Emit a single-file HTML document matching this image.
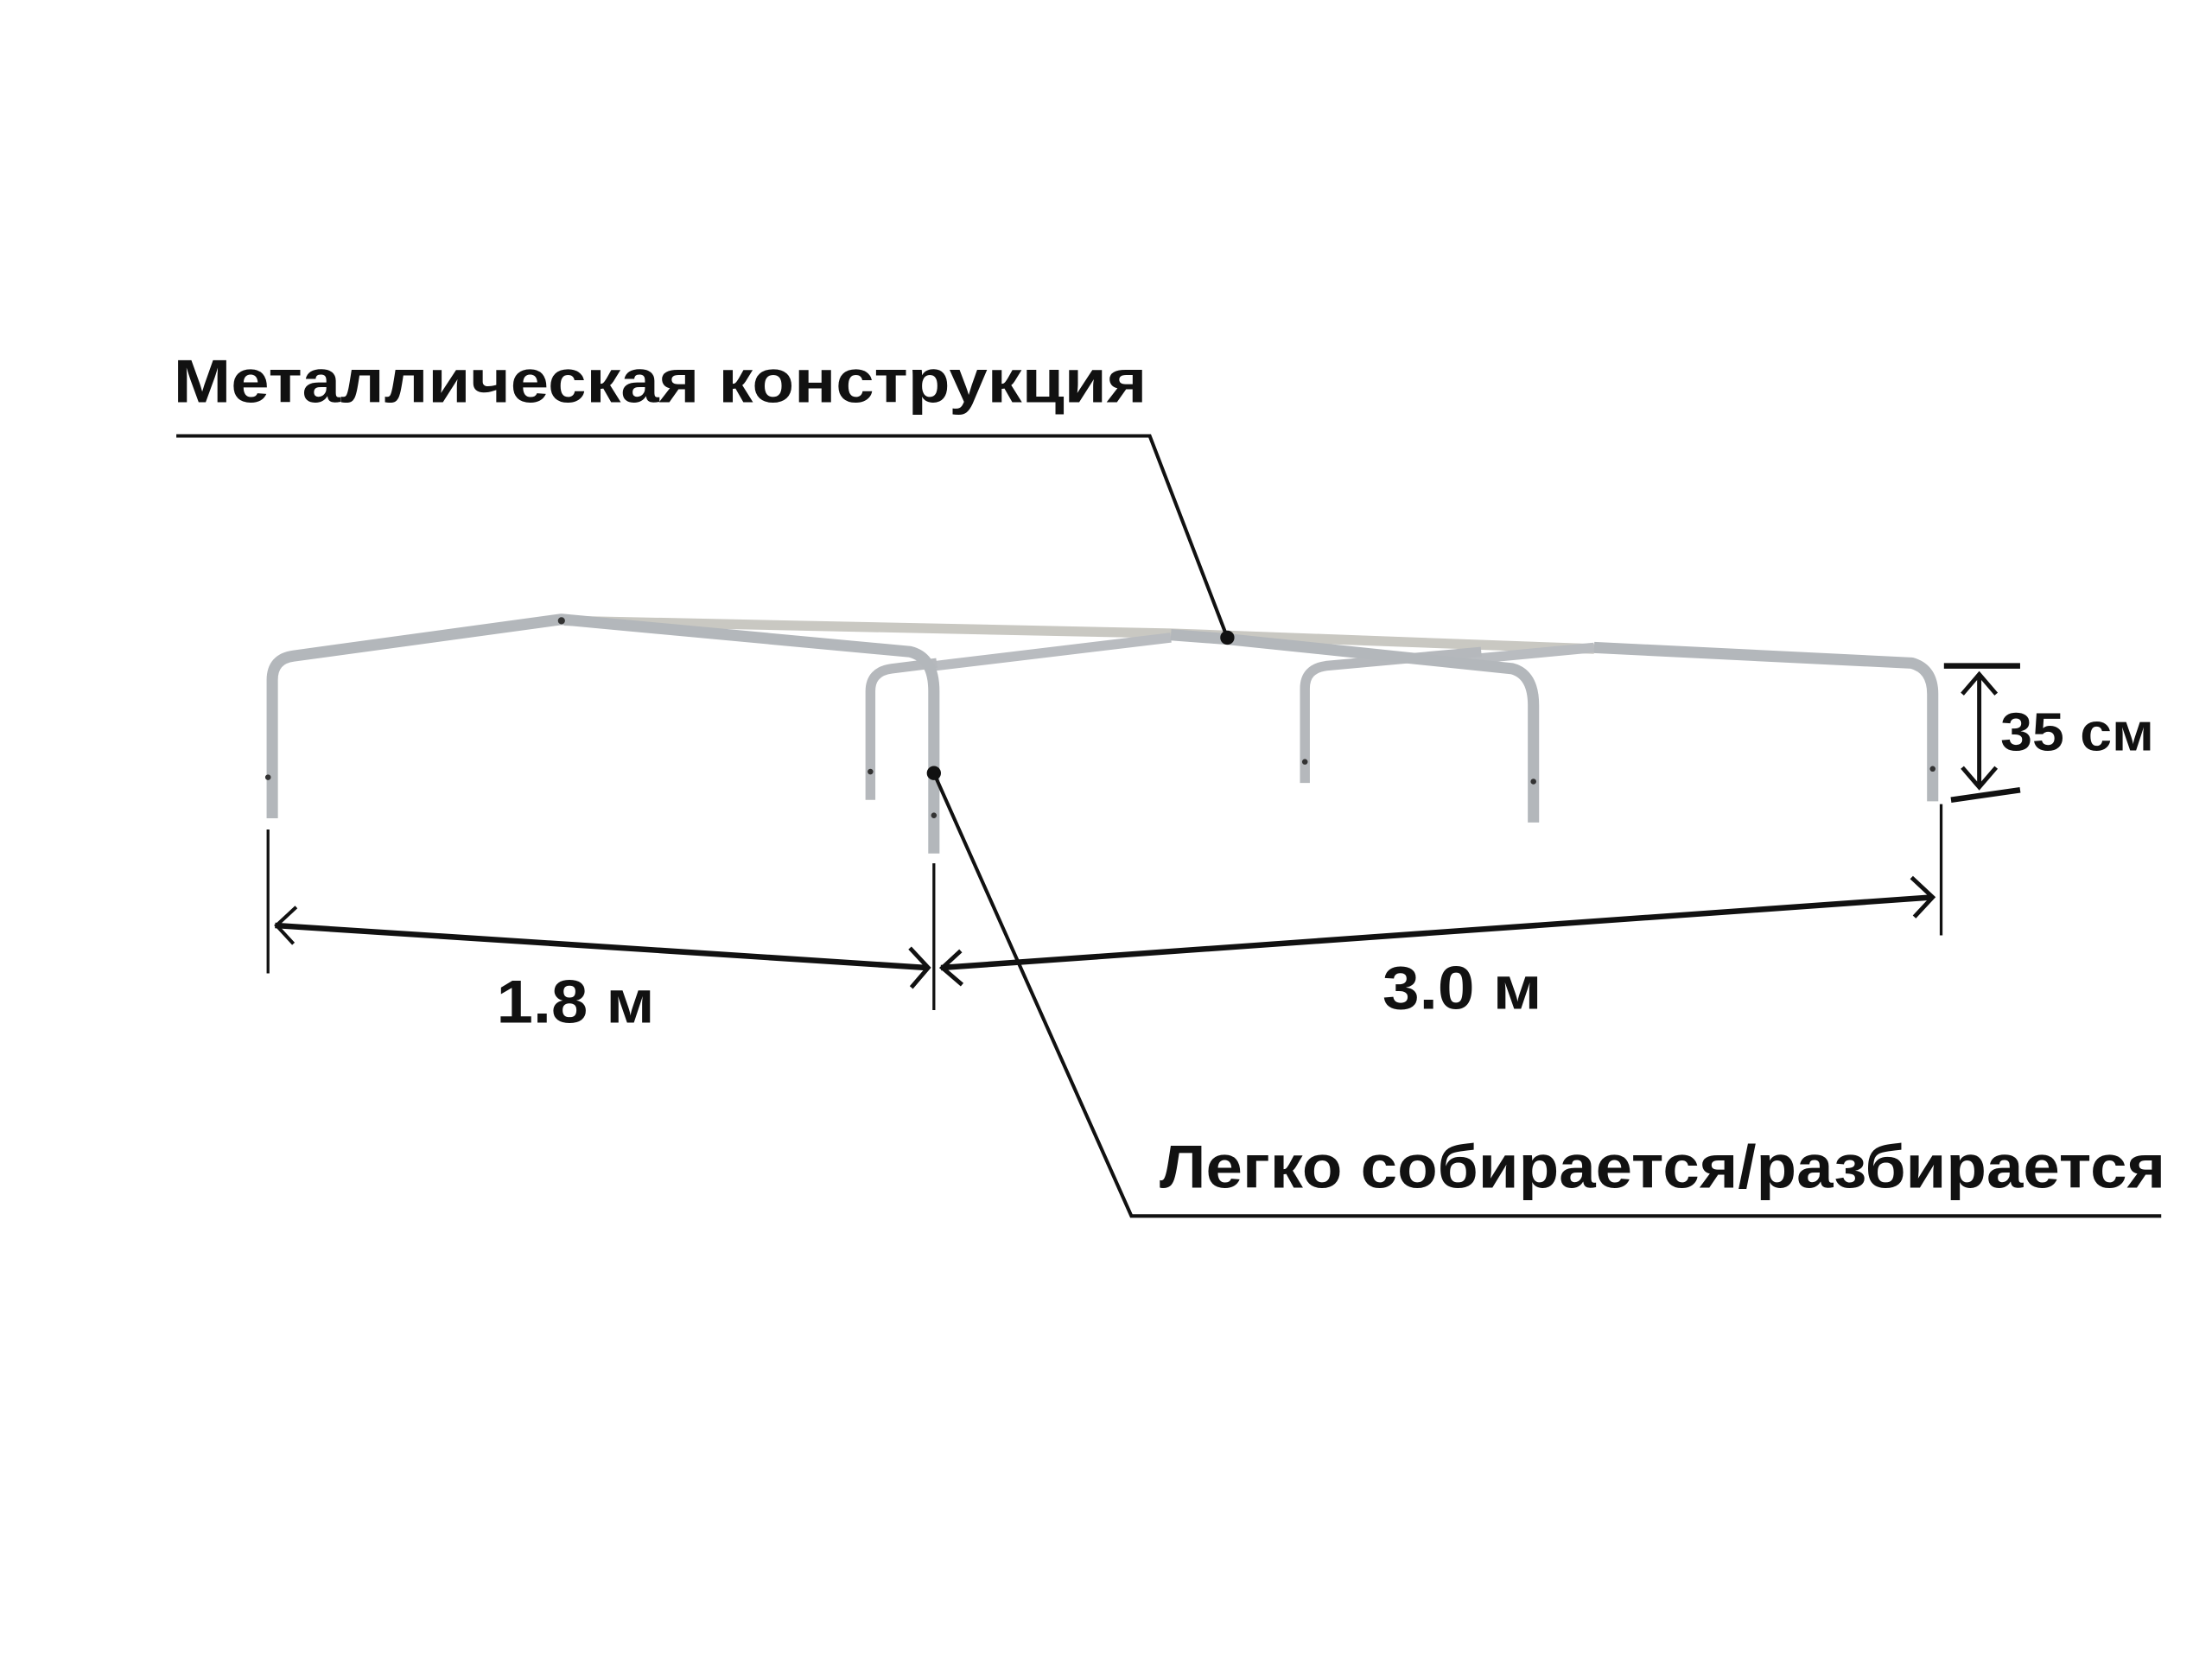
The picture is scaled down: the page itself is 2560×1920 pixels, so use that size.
<!DOCTYPE html>
<html><head><meta charset="utf-8"><style>
html,body{margin:0;padding:0;background:#fff;}
svg{display:block;}
text{font-family:"Liberation Sans",sans-serif;font-weight:bold;fill:#111;}
</style></head><body>
<svg width="2560" height="1920" viewBox="0 0 1568 1176" xmlns="http://www.w3.org/2000/svg">
<rect width="1568" height="1176" fill="#fff"/>
<g fill="none" stroke-linecap="butt" stroke-linejoin="round">
  <!-- back beige rail -->
  <path d="M400 440 L830 449 L1130 460" stroke="#c9c8c2" stroke-width="7"/>
  <!-- far crossbars -->
  <path d="M663 472 L830 452" stroke="#b9bcc0" stroke-width="7"/>
  <path d="M1035 468 L1130 459" stroke="#b9bcc0" stroke-width="7"/>
  <!-- back-middle arch -->
  <path d="M925 555 L925 488 Q925 474 940 472 L1050 462" stroke="#b5b8bc" stroke-width="7"/>
  <!-- left-back arch -->
  <path d="M617 567 L617 490 Q617 476 632 474 L664 470" stroke="#b5b8bc" stroke-width="7"/>
  <!-- left front arch -->
  <path d="M193 580 L193 482 Q193 467 208 465 L398 439 L645 462 Q662 466 662 490 L662 605" stroke="#b3b7bb" stroke-width="8"/>
  <!-- main ridge to right -->
  <path d="M830 450 L870 453 L1072 474 Q1087 478 1087 500 L1087 583" stroke="#b3b7bb" stroke-width="8"/>
  <path d="M1130 459 L1355 470 Q1370 474 1370 492 L1370 568" stroke="#b3b7bb" stroke-width="8"/>
</g>
<g fill="#333">
  <circle cx="398" cy="440" r="2.5"/><circle cx="190" cy="551" r="2"/><circle cx="617" cy="547" r="2"/>
  <circle cx="662" cy="578" r="2"/><circle cx="925" cy="540" r="2"/><circle cx="1087" cy="554" r="2"/><circle cx="1370" cy="545" r="2"/>
</g>
<g stroke="#111" fill="none" stroke-width="2.5">
  <!-- leader lines -->
  <path d="M125 309 L815 309 L870 452"/>
  <path d="M1532 862 L802 862 L662 548"/>
  <!-- extension lines -->
  <path d="M190 588 L190 690" stroke-width="2"/>
  <path d="M662 612 L662 716" stroke-width="2"/>
  <path d="M1376 570 L1376 663" stroke-width="2"/>
  <!-- dimension arrows -->
  <path d="M195 656 L657 686" stroke-width="4"/>
  <path d="M210 643 L196 656 L208 669"/>
  <path d="M645 672 L658 686 L646 700" stroke-width="3"/>
  <path d="M667 686 L1370 636" stroke-width="4"/>
  <path d="M681 674 L668 686 L682 698" stroke-width="3"/>
  <path d="M1355 622 L1370 636 L1357 650" stroke-width="3"/>
  <!-- 35 cm -->
  <path d="M1378 472 L1432 472" stroke-width="4"/>
  <path d="M1383 567 L1432 560" stroke-width="4"/>
  <path d="M1403 478 L1403 558" stroke-width="3"/>
  <path d="M1391 492 L1403 478 L1415 492" stroke-width="3"/>
  <path d="M1391 544 L1403 558 L1415 544" stroke-width="3"/>
</g>
<circle cx="870" cy="452" r="5" fill="#111"/>
<circle cx="662" cy="548" r="5" fill="#111"/>
<text x="123" y="285" font-size="43" textLength="690" lengthAdjust="spacingAndGlyphs">Металлическая конструкция</text>
<text x="822" y="842" font-size="43" textLength="713" lengthAdjust="spacingAndGlyphs">Легко собирается/разбирается</text>
<text x="352" y="725" font-size="43" textLength="112" lengthAdjust="spacingAndGlyphs">1.8 м</text>
<text x="980" y="715" font-size="43" textLength="113" lengthAdjust="spacingAndGlyphs">3.0 м</text>
<text x="1418" y="532" font-size="38" textLength="109" lengthAdjust="spacingAndGlyphs">35 см</text>
</svg>
</body></html>
